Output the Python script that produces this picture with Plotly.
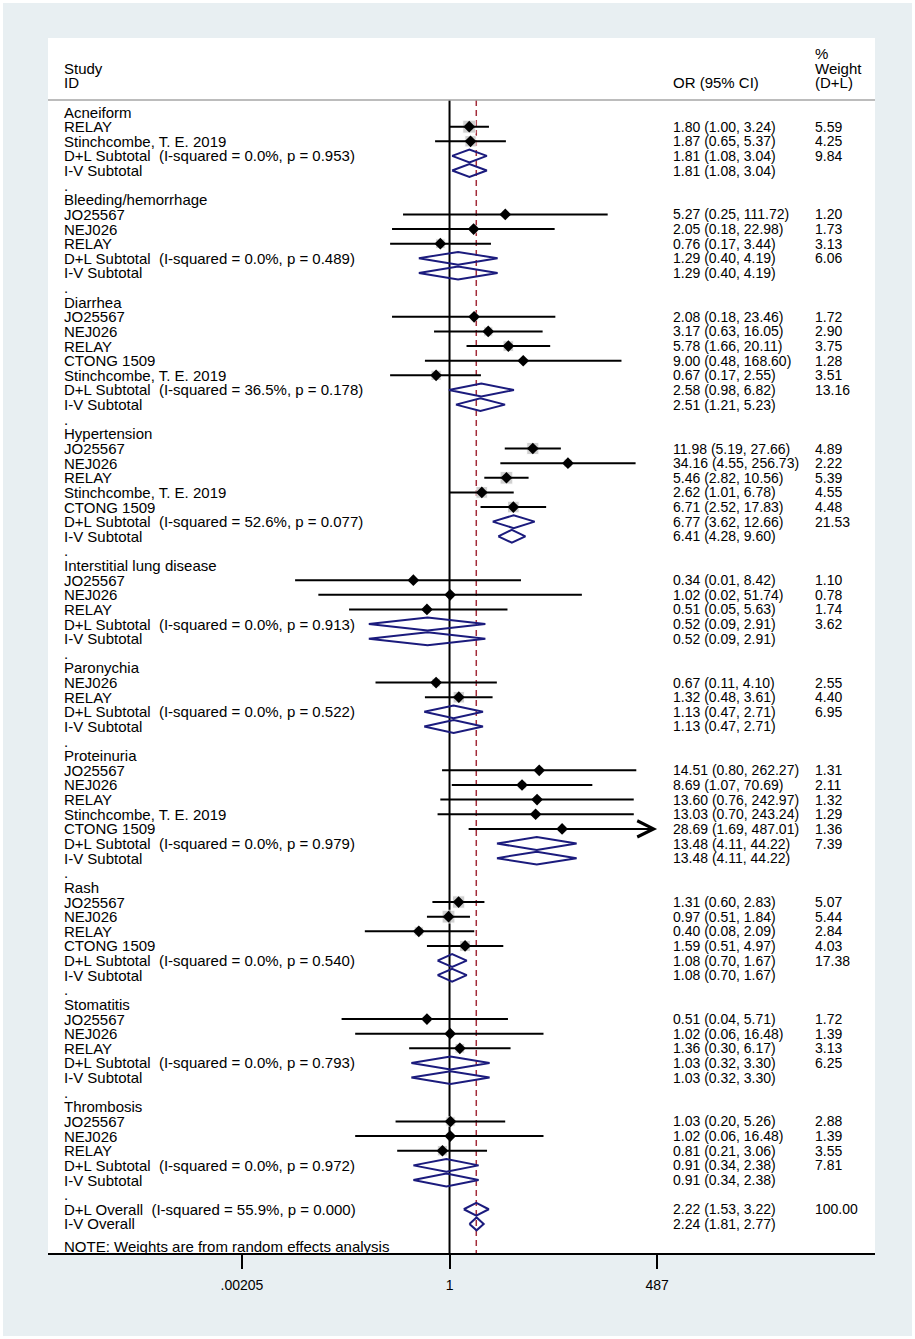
import numpy as np
import plotly.graph_objects as go

# subgroup headings in plotted order
groups = ["Acneiform", "Bleeding/hemorrhage", "Diarrhea", "Hypertension",
          "Interstitial lung disease", "Paronychia", "Proteinuria", "Rash",
          "Stomatitis", "Thrombosis"]

# individual studies
study_group = [0, 0,
               1, 1, 1,
               2, 2, 2, 2, 2,
               3, 3, 3, 3, 3,
               4, 4, 4,
               5, 5,
               6, 6, 6, 6, 6,
               7, 7, 7, 7,
               8, 8, 8,
               9, 9, 9]
study_name = ["RELAY", "Stinchcombe, T. E. 2019",
              "JO25567", "NEJ026", "RELAY",
              "JO25567", "NEJ026", "RELAY", "CTONG 1509", "Stinchcombe, T. E. 2019",
              "JO25567", "NEJ026", "RELAY", "Stinchcombe, T. E. 2019", "CTONG 1509",
              "JO25567", "NEJ026", "RELAY",
              "NEJ026", "RELAY",
              "JO25567", "NEJ026", "RELAY", "Stinchcombe, T. E. 2019", "CTONG 1509",
              "JO25567", "NEJ026", "RELAY", "CTONG 1509",
              "JO25567", "NEJ026", "RELAY",
              "JO25567", "NEJ026", "RELAY"]
study_or = [1.80, 1.87,
            5.27, 2.05, 0.76,
            2.08, 3.17, 5.78, 9.00, 0.67,
            11.98, 34.16, 5.46, 2.62, 6.71,
            0.34, 1.02, 0.51,
            0.67, 1.32,
            14.51, 8.69, 13.60, 13.03, 28.69,
            1.31, 0.97, 0.40, 1.59,
            0.51, 1.02, 1.36,
            1.03, 1.02, 0.81]
study_lo = [1.00, 0.65,
            0.25, 0.18, 0.17,
            0.18, 0.63, 1.66, 0.48, 0.17,
            5.19, 4.55, 2.82, 1.01, 2.52,
            0.01, 0.02, 0.05,
            0.11, 0.48,
            0.80, 1.07, 0.76, 0.70, 1.69,
            0.60, 0.51, 0.08, 0.51,
            0.04, 0.06, 0.30,
            0.20, 0.06, 0.21]
study_hi = [3.24, 5.37,
            111.72, 22.98, 3.44,
            23.46, 16.05, 20.11, 168.60, 2.55,
            27.66, 256.73, 10.56, 6.78, 17.83,
            8.42, 51.74, 5.63,
            4.10, 3.61,
            262.27, 70.69, 242.97, 243.24, 487.01,
            2.83, 1.84, 2.09, 4.97,
            5.71, 16.48, 6.17,
            5.26, 16.48, 3.06]
study_wt = [5.59, 4.25,
            1.20, 1.73, 3.13,
            1.72, 2.90, 3.75, 1.28, 3.51,
            4.89, 2.22, 5.39, 4.55, 4.48,
            1.10, 0.78, 1.74,
            2.55, 4.40,
            1.31, 2.11, 1.32, 1.29, 1.36,
            5.07, 5.44, 2.84, 4.03,
            1.72, 1.39, 3.13,
            2.88, 1.39, 3.55]

# subtotals: DerSimonian-Laird and inverse variance
dl_or = [1.81, 1.29, 2.58, 6.77, 0.52, 1.13, 13.48, 1.08, 1.03, 0.91]
dl_lo = [1.08, 0.40, 0.98, 3.62, 0.09, 0.47, 4.11, 0.70, 0.32, 0.34]
dl_hi = [3.04, 4.19, 6.82, 12.66, 2.91, 2.71, 44.22, 1.67, 3.30, 2.38]
dl_wt = [9.84, 6.06, 13.16, 21.53, 3.62, 6.95, 7.39, 17.38, 6.25, 7.81]
dl_isq = [0.0, 0.0, 36.5, 52.6, 0.0, 0.0, 0.0, 0.0, 0.0, 0.0]
dl_p = [0.953, 0.489, 0.178, 0.077, 0.913, 0.522, 0.979, 0.540, 0.793, 0.972]
iv_or = [1.81, 1.29, 2.51, 6.41, 0.52, 1.13, 13.48, 1.08, 1.03, 0.91]
iv_lo = [1.08, 0.40, 1.21, 4.28, 0.09, 0.47, 4.11, 0.70, 0.32, 0.34]
iv_hi = [3.04, 4.19, 5.23, 9.60, 2.91, 2.71, 44.22, 1.67, 3.30, 2.38]

# overall
overall_dl = [2.22, 1.53, 3.22]
overall_iv = [2.24, 1.81, 2.77]
overall_isq = 55.9
overall_p = 0.000

tick_vals = [0.00205, 1, 487]
tick_text = [".00205", "1", "487"]

FONT = "Liberation Sans, Arial, sans-serif"
NAVY = "#1b1b7d"
X_LEFT, X_OR, X_WT = 0.0169, 0.7533, 0.925
H = 0.44  # half height of summary diamonds (rows)


def ci_text(e, l, h):
    return f"{e:.2f} ({l:.2f}, {h:.2f})"


annots = []


def label(x, y, text, size=15):
    annots.append(dict(x=x, y=y, xref="paper", yref="y", text=text, showarrow=False,
                       xanchor="left", yanchor="middle",
                       font=dict(family=FONT, size=size, color="black")))


ci_x, ci_y = [], []
pt_x, pt_y, box_s = [], [], []
dia_x, dia_y = [], []
arrows = []


def diamond(e, l, h, r):
    dia_x.extend([l, e, h, e, l, None])
    dia_y.extend([r, r - H, r, r + H, r, None])


r = 1
for g, gname in enumerate(groups):
    label(X_LEFT, r, gname)
    r += 1
    for i in range(len(study_name)):
        if study_group[i] != g:
            continue
        label(X_LEFT, r, study_name[i])
        label(X_OR, r, ci_text(study_or[i], study_lo[i], study_hi[i]), 14)
        label(X_WT, r, f"{study_wt[i]:.2f}", 14)
        pt_x.append(study_or[i]); pt_y.append(r); box_s.append(5.5 * np.sqrt(study_wt[i]))
        if study_hi[i] > tick_vals[-1]:
            arrows.append((study_lo[i], r))
        else:
            ci_x.extend([study_lo[i], study_hi[i], None]); ci_y.extend([r, r, None])
        r += 1
    label(X_LEFT, r, f"D+L Subtotal\u00a0\u00a0(I-squared = {dl_isq[g]:.1f}%, p = {dl_p[g]:.3f})")
    label(X_OR, r, ci_text(dl_or[g], dl_lo[g], dl_hi[g]), 14)
    label(X_WT, r, f"{dl_wt[g]:.2f}", 14)
    diamond(dl_or[g], dl_lo[g], dl_hi[g], r)
    r += 1
    label(X_LEFT, r, "I-V Subtotal")
    label(X_OR, r, ci_text(iv_or[g], iv_lo[g], iv_hi[g]), 14)
    diamond(iv_or[g], iv_lo[g], iv_hi[g], r)
    r += 1
    label(X_LEFT, r, ".")
    r += 1

label(X_LEFT, r, f"D+L Overall\u00a0\u00a0(I-squared = {overall_isq:.1f}%, p = {overall_p:.3f})")
label(X_OR, r, ci_text(*overall_dl), 14)
label(X_WT, r, "100.00", 14)
diamond(*overall_dl, r)
r += 1
label(X_LEFT, r, "I-V Overall")
label(X_OR, r, ci_text(*overall_iv), 14)
diamond(*overall_iv, r)
label(X_LEFT, r + 1.55, "NOTE: Weights are from random effects analysis")

# header
label(X_LEFT, -2, "Study")
label(X_LEFT, -1, "ID")
label(X_OR, -1, "OR (95% CI)")
label(X_WT, -3, "%")
label(X_WT, -2, "Weight")
label(X_WT, -1, "(D+L)")

Y_BOT, Y_TOP, Y_SEP = 78.99, -4.06, 0.18

for lo, rr in arrows:
    annots.append(dict(x=np.log10(tick_vals[-1]), y=rr, ax=np.log10(lo), ay=rr,
                       xref="x", yref="y", axref="x", ayref="y", text="",
                       showarrow=True, arrowhead=5, arrowsize=1.6, arrowwidth=2,
                       arrowcolor="black"))

fig = go.Figure()
fig.add_trace(go.Scatter(x=pt_x, y=pt_y, mode="markers",
                         marker=dict(symbol="square", size=box_s, color="#bdbdbd"),
                         hoverinfo="skip"))
fig.add_trace(go.Scatter(x=ci_x, y=ci_y, mode="lines",
                         line=dict(color="black", width=2), hoverinfo="skip"))
fig.add_trace(go.Scatter(x=pt_x, y=pt_y, mode="markers",
                         marker=dict(symbol="diamond", size=9, color="black"),
                         hoverinfo="skip"))
fig.add_trace(go.Scatter(x=dia_x, y=dia_y, mode="lines",
                         line=dict(color=NAVY, width=2), hoverinfo="skip"))

shapes = [
    dict(type="line", xref="x", yref="y", x0=1, x1=1, y0=Y_SEP, y1=Y_BOT,
         line=dict(color="black", width=2), layer="below"),
    dict(type="line", xref="x", yref="y", x0=overall_dl[0], x1=overall_dl[0],
         y0=Y_SEP, y1=Y_BOT, line=dict(color="#a32c3a", width=1.5, dash="6px,4px"),
         layer="below"),
    dict(type="line", xref="paper", yref="y", x0=0, x1=1, y0=Y_SEP, y1=Y_SEP,
         line=dict(color="#a6a6a6", width=1.5)),
    dict(type="rect", xref="paper", yref="paper", x0=-48 / 827, x1=867 / 827,
         y0=-86 / 1215, y1=1253 / 1215, line=dict(color="white", width=6)),
]

fig.update_layout(
    width=915, height=1339,
    margin=dict(l=48, r=40, t=38, b=86),
    paper_bgcolor="#e8eff2", plot_bgcolor="white",
    showlegend=False,
    annotations=annots, shapes=shapes,
    font=dict(family=FONT, size=14, color="black"),
)
fig.update_xaxes(type="log", range=[-5.20, 5.51], tickvals=tick_vals, ticktext=tick_text,
                 showgrid=False, zeroline=False, showline=True, linecolor="black",
                 linewidth=2, ticks="outside", ticklen=14, tickwidth=2, tickcolor="black",
                 tickfont=dict(family=FONT, size=14, color="black"), ticklabelstandoff=4)
fig.update_yaxes(range=[Y_BOT, Y_TOP], visible=False, showgrid=False, zeroline=False)

fig.write_html("out.html", config={"displayModeBar": False},
               post_script="document.body.style.margin='0';")
